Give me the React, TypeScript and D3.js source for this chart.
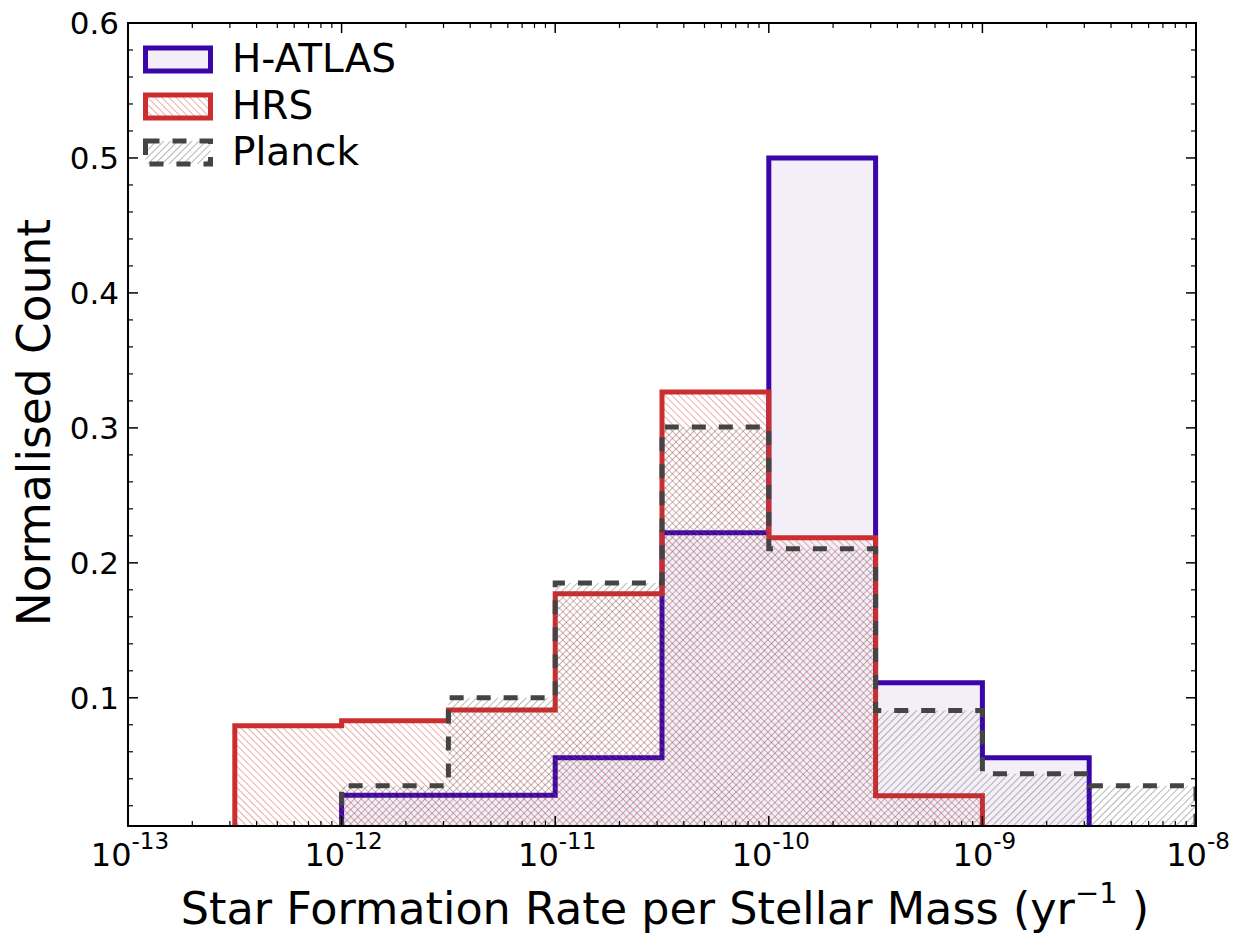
import React from "react";
import * as d3 from "d3";

// Bin edges are half-decade steps in log10(sSFR / yr^-1)
const hatlasStart = -12;
const hatlasValues = [0.0278, 0.0278, 0.0556, 0.2222, 0.5, 0.1111, 0.0556];
const hrsStart = -12.5;
const hrsValues = [0.0793, 0.083, 0.091, 0.177, 0.3266, 0.2185, 0.0274];
const planckStart = -12;
const planckValues = [0.0348, 0.1, 0.185, 0.3007, 0.2104, 0.0906, 0.0437, 0.0348];
const binWidth = 0.5;

const xTickExps = [-13, -12, -11, -10, -9, -8];
const yTicks = [0.1, 0.2, 0.3, 0.4, 0.5, 0.6];
const legendLabels = ["H-ATLAS", "HRS", "Planck"];

const W = 1233;
const H = 933;
const M = { left: 128, right: 1196, top: 23, bottom: 826 };
const FONT = "DejaVu Sans, sans-serif";

const BLUE = "#3a06aa";
const RED = "#cc2e30";
const GREY = "#444444";
const LAVENDER = "#f3eef7";

const x = d3.scaleLog().domain([1e-13, 1e-8]).range([M.left, M.right]);
const y = d3.scaleLinear().domain([0.005, 0.6]).range([M.bottom, M.top]);

function stepPath(start: number, values: number[]): string {
  const p = d3.path();
  const e0 = Math.pow(10, start);
  p.moveTo(x(e0), y(0));
  values.forEach((v, i) => {
    const a = Math.pow(10, start + i * binWidth);
    const b = Math.pow(10, start + (i + 1) * binWidth);
    p.lineTo(x(a), y(v));
    p.lineTo(x(b), y(v));
  });
  const eN = Math.pow(10, start + values.length * binWidth);
  p.lineTo(x(eN), y(0));
  p.closePath();
  return p.toString();
}

export default function App() {
  const minorX: number[] = [];
  for (let k = -13; k < -8; k++) {
    for (let m = 2; m <= 9; m++) minorX.push(m * Math.pow(10, k));
  }
  const minorY: number[] = d3.range(0.02, 0.6, 0.02).filter(
    (v) => Math.abs(v * 10 - Math.round(v * 10)) > 1e-6
  );

  const hatlasD = stepPath(hatlasStart, hatlasValues);
  const hrsD = stepPath(hrsStart, hrsValues);
  const planckD = stepPath(planckStart, planckValues);

  const legendY = [59, 106, 152];

  return (
    <svg
      width={W}
      height={H}
      style={{ position: "absolute", left: 0, top: 0, background: "#fff" }}
      fontFamily={FONT}
    >
      <defs>
        <clipPath id="plotClip">
          <rect x={M.left} y={M.top} width={M.right - M.left} height={M.bottom - M.top} />
        </clipPath>
        <pattern id="hatchRed" patternUnits="userSpaceOnUse" width={5} height={5} patternTransform="rotate(-45)">
          <line x1={0} y1={0} x2={0} y2={5} stroke={RED} strokeWidth={1.1} strokeOpacity={0.75} />
        </pattern>
        <pattern id="hatchGrey" patternUnits="userSpaceOnUse" width={5} height={5} patternTransform="rotate(45)">
          <line x1={0} y1={0} x2={0} y2={5} stroke={GREY} strokeWidth={1.1} strokeOpacity={0.7} />
        </pattern>
      </defs>

      <g clipPath="url(#plotClip)">
        <path d={hatlasD} fill={LAVENDER} stroke={BLUE} strokeWidth={5} />
        <path d={hrsD} fill="url(#hatchRed)" stroke={RED} strokeWidth={5} />
        <path d={planckD} fill="url(#hatchGrey)" stroke={GREY} strokeWidth={5} strokeDasharray="14 13" />
      </g>

      {/* frame */}
      <rect
        x={M.left}
        y={M.top}
        width={M.right - M.left}
        height={M.bottom - M.top}
        fill="none"
        stroke="#000"
        strokeWidth={2}
      />

      {/* x ticks */}
      {xTickExps.map((e) => {
        const xx = x(Math.pow(10, e));
        return (
          <g key={"xt" + e}>
            <line x1={xx} x2={xx} y1={M.bottom} y2={M.bottom - 10} stroke="#000" strokeWidth={1.5} />
            <line x1={xx} x2={xx} y1={M.top} y2={M.top + 10} stroke="#000" strokeWidth={1.5} />
            <text x={xx + 2} y={866} textAnchor="middle" fontSize={32} fill="#000">
              10
              <tspan fontSize={23} dy={-17}>
                {String(e)}
              </tspan>
            </text>
          </g>
        );
      })}
      {minorX.map((v, i) => {
        const xx = x(v);
        return (
          <g key={"xm" + i}>
            <line x1={xx} x2={xx} y1={M.bottom} y2={M.bottom - 5} stroke="#000" strokeWidth={1.2} />
            <line x1={xx} x2={xx} y1={M.top} y2={M.top + 5} stroke="#000" strokeWidth={1.2} />
          </g>
        );
      })}

      {/* y ticks */}
      {yTicks.map((v) => {
        const yy = y(v);
        return (
          <g key={"yt" + v}>
            <line x1={M.left} x2={M.left + 10} y1={yy} y2={yy} stroke="#000" strokeWidth={1.5} />
            <line x1={M.right} x2={M.right - 10} y1={yy} y2={yy} stroke="#000" strokeWidth={1.5} />
            <text x={119} y={yy + 11} textAnchor="end" fontSize={31} fill="#000">
              {v.toFixed(1)}
            </text>
          </g>
        );
      })}
      {minorY.map((v, i) => {
        const yy = y(v);
        return (
          <g key={"ym" + i}>
            <line x1={M.left} x2={M.left + 5} y1={yy} y2={yy} stroke="#000" strokeWidth={1.2} />
            <line x1={M.right} x2={M.right - 5} y1={yy} y2={yy} stroke="#000" strokeWidth={1.2} />
          </g>
        );
      })}

      {/* axis titles */}
      <text
        x={(M.left + M.right) / 2 + 3}
        y={924}
        textAnchor="middle"
        fontSize={44.5}
        fill="#000"
      >
        Star Formation Rate per Stellar Mass (yr
        <tspan fontSize={29} dy={-21}>
          −1
        </tspan>
        <tspan dy={21}> )</tspan>
      </text>
      <text
        transform={`translate(50, ${(M.top + M.bottom) / 2 - 2}) rotate(-90)`}
        textAnchor="middle"
        fontSize={45.5}
        fill="#000"
      >
        Normalised Count
      </text>

      {/* legend */}
      <rect x={145.5} y={legendY[0] - 11} width={65} height={23} fill={LAVENDER} stroke={BLUE} strokeWidth={5} />
      <rect x={145.5} y={legendY[1] - 11} width={65} height={23} fill="url(#hatchRed)" stroke={RED} strokeWidth={5} />
      <rect
        x={145.5}
        y={legendY[2] - 11}
        width={65}
        height={23}
        fill="url(#hatchGrey)"
        stroke={GREY}
        strokeWidth={5}
        strokeDasharray="14 13"
      />
      {legendLabels.map((l, i) => (
        <text key={l} x={232} y={legendY[i] + 13} fontSize={39} fill="#000">
          {l}
        </text>
      ))}
    </svg>
  );
}
